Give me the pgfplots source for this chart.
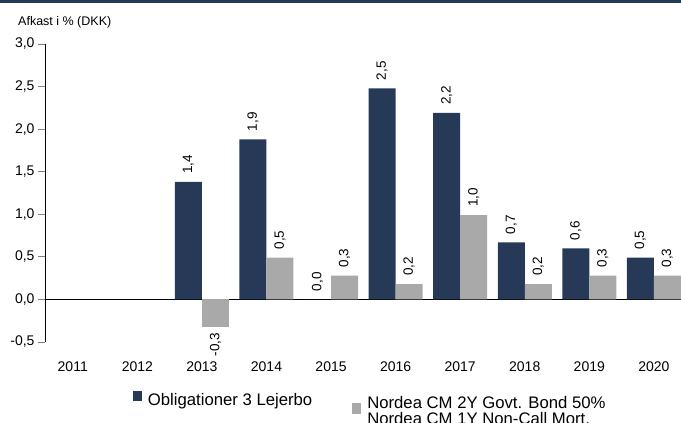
\documentclass[border=0pt]{standalone}
\usepackage{pgfplots}
\pgfplotsset{compat=1.18}
\usepackage{fontspec}
\setmainfont{Liberation Sans}
\definecolor{navy}{HTML}{263A57}
\definecolor{gbar}{HTML}{A9A9A9}
\begin{document}
\begin{tikzpicture}
\useasboundingbox (0pt,0pt) rectangle (681pt,423pt);
\fill[navy] (0pt,420pt) rectangle (681pt,423pt);
\node[anchor=west, font=\fontsize{12.5}{14}\selectfont, inner sep=0] at (18pt,401pt) {Afkast i \% (DKK)};
\begin{axis}[
  at={(45pt,81pt)}, anchor=south west,
  scale only axis, width=636pt, height=298pt,
  xmin=-0.43, xmax=9.42, ymin=-0.5, ymax=3.0,
  axis y line=left, axis x line=bottom,
  x axis line style={draw=none},
  y axis line style={-, line width=0.8pt},
  xtick={0,...,9},
  xticklabels={2011,2012,2013,2014,2015,2016,2017,2018,2019,2020},
  xtick style={draw=none},
  ytick={-0.5,0,0.5,1,1.5,2,2.5,3},
  yticklabels={{-0,5},{0,0},{0,5},{1,0},{1,5},{2,0},{2,5},{3,0}},
  tick align=outside, major tick length=7pt,
  ytick style={line width=0.8pt},
  ticklabel style={font=\fontsize{14}{16}\selectfont},
  xticklabel style={yshift=-9pt},
  ybar, bar width=27pt,
  point meta=explicit symbolic,
  every node near coord/.append style={rotate=90, anchor=west, inner xsep=8pt, inner ysep=0pt, font=\fontsize{13.5}{15}\selectfont},
  legend columns=2,
  legend style={at={(0.138,-0.164)}, anchor=north west, draw=none, fill=none,
    font=\fontsize{16.7}{14}\selectfont, inner sep=0pt,
    /tikz/every odd column/.append style={column sep=4pt},
    /tikz/every even column/.append style={column sep=38pt}},
  legend cell align=left,
]
\draw[black, line width=0.8pt] (axis cs:-0.43,0) -- (axis cs:9.42,0);
\addplot[fill=navy, draw=none, bar shift=-13.5pt,
  nodes near coords,
  legend image code/.code={\fill[navy] (0pt,-1pt) rectangle (9pt,9pt);}]
  coordinates {(2,1.38) [1,4] (3,1.88) [1,9] (4,0) [0,0] (5,2.48) [2,5] (6,2.19) [2,2] (7,0.67) [0,7] (8,0.6) [0,6] (9,0.49) [0,5]};
\addlegendentry{Obligationer 3 Lejerbo}
\addplot[fill=gbar, draw=none, bar shift=13.5pt,
  nodes near coords,
  legend image code/.code={\fill[gbar] (0pt,-14pt) rectangle (9pt,-3pt);}]
  coordinates {(3,0.49) [0,5] (4,0.28) [0,3] (5,0.18) [0,2] (6,0.99) [1,0] (7,0.18) [0,2] (8,0.28) [0,3] (9,0.28) [0,3]};
\addlegendentry{\smash{\raisebox{-25pt}{\begin{tabular}[b]{@{}l@{}}Nordea CM 2Y Govt. Bond 50\%\\Nordea CM 1Y Non-Call Mort.\end{tabular}}}}
\addplot[fill=gbar, draw=none, bar shift=13.5pt, forget plot,
  nodes near coords,
  every node near coord/.append style={anchor=east, inner xsep=6pt}]
  coordinates {(2,-0.32) [-0,3]};
\end{axis}
\end{tikzpicture}
\end{document}
